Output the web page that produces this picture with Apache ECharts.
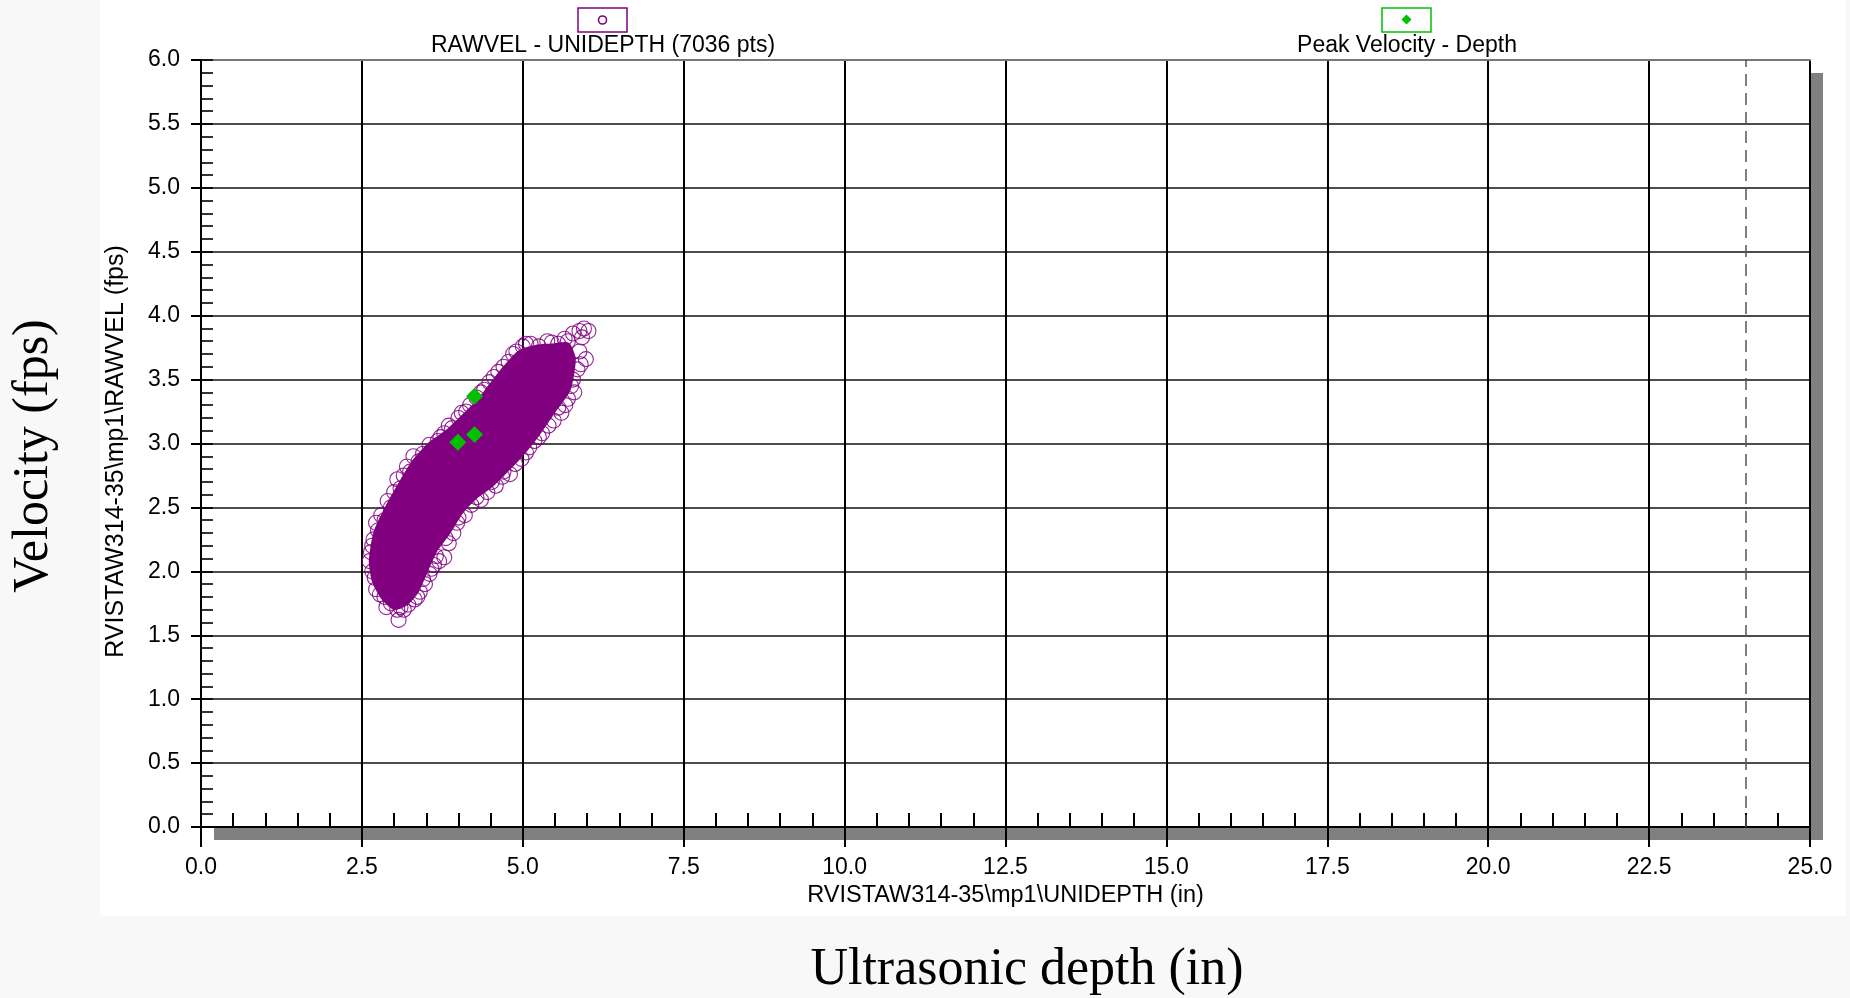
<!DOCTYPE html>
<html>
<head>
<meta charset="utf-8">
<script src="https://cdn.jsdelivr.net/npm/echarts@6/dist/echarts.min.js"></script>
<style>
    html, body { margin: 0; padding: 0; background: #f8f8f8; }
    #paper { position: absolute; left: 100px; top: 0; width: 1746px; height: 916px; background: #fff; }
    #container { position: absolute; left: 0; top: 0; width: 1850px; height: 998px; }
</style>
</head>
<body>
<div id="paper"></div>
<div id="container"></div>
<script>
// series names
const rawName = 'RAWVEL - UNIDEPTH (7036 pts)';
const peakName = 'Peak Velocity - Depth';

// dense part of the RAWVEL cloud (markers overlap into a solid mass), outline
const denseDepth = [3.00, 2.82, 2.68, 2.63, 2.70, 2.86, 3.08, 3.30, 3.55, 3.83, 4.08, 4.30, 4.50, 4.72, 4.95, 5.20, 5.45, 5.70,
    5.80, 5.72, 5.50, 5.24, 5.02, 4.78, 4.52, 4.30, 4.05, 3.85, 3.66, 3.50, 3.36, 3.18];
const denseVel = [1.71, 1.79, 1.92, 2.08, 2.30, 2.48, 2.68, 2.86, 3.00, 3.10, 3.22, 3.33, 3.46, 3.60, 3.72, 3.76, 3.77, 3.78,
    3.66, 3.42, 3.26, 3.07, 2.93, 2.80, 2.67, 2.59, 2.46, 2.30, 2.17, 2.00, 1.84, 1.74];

// single RAWVEL readings visible on the rim of the cloud
const rawDepth = [2.72, 2.66, 2.64, 2.68, 2.72, 2.80, 2.90, 3.00, 3.05, 3.15, 3.20, 3.30, 3.45, 3.55, 3.68, 3.78, 3.90, 4.00, 4.12,
    4.28, 4.40, 4.55, 4.62, 4.78, 4.90, 5.00, 5.12, 5.25, 5.38, 5.55, 5.65,
    5.78, 5.88, 5.95, 6.02, 5.92,
    5.98, 5.88, 5.85, 5.78, 5.80, 5.70, 5.66, 5.60, 5.48, 5.40, 5.30, 5.18, 5.10, 4.98, 4.88, 4.80, 4.68, 4.58, 4.45, 4.35,
    4.20, 4.10, 3.98, 3.92, 3.85, 3.78, 3.70, 3.62, 3.55, 3.48, 3.40, 3.32, 3.22, 3.10,
    2.95, 2.85, 3.05, 3.07,
    2.70, 2.62, 2.66, 2.75, 2.85, 2.95, 3.10, 3.25, 3.38, 3.62, 3.72, 3.85, 4.05, 4.18, 4.35, 4.48, 4.70, 4.85, 5.05, 5.45, 5.70,
    5.90, 5.75, 5.55, 5.25, 5.05, 4.70, 4.52, 4.28, 4.00, 3.80, 3.65, 3.58, 3.45, 3.36, 3.15, 2.88, 2.78];
const rawVel = [1.86, 2.00, 2.15, 2.25, 2.38, 2.44, 2.55, 2.62, 2.72, 2.75, 2.82, 2.90, 2.92, 2.99, 3.02, 3.08, 3.12, 3.20, 3.25,
    3.36, 3.42, 3.52, 3.56, 3.64, 3.72, 3.76, 3.78, 3.76, 3.80, 3.78, 3.82,
    3.86, 3.88, 3.90, 3.88, 3.83,
    3.66, 3.72, 3.58, 3.50, 3.40, 3.35, 3.30, 3.24, 3.18, 3.14, 3.08, 3.02, 2.97, 2.88, 2.84, 2.76, 2.74, 2.67, 2.62, 2.56,
    2.52, 2.44, 2.38, 2.30, 2.22, 2.11, 2.08, 2.05, 1.98, 1.90, 1.84, 1.78, 1.74, 1.72,
    1.75, 1.80, 1.70, 1.62,
    1.95, 2.08, 2.20, 2.32, 2.40, 2.50, 2.65, 2.78, 2.86, 2.96, 3.05, 3.14, 3.24, 3.30, 3.40, 3.48, 3.60, 3.70, 3.78, 3.79, 3.80,
    3.62, 3.45, 3.28, 3.05, 2.93, 2.78, 2.70, 2.58, 2.42, 2.26, 2.12, 2.02, 1.94, 1.80, 1.70, 1.72, 1.82];

// peak velocity points
const peakDepth = [3.99, 4.25, 4.25];
const peakVel = [3.01, 3.07, 3.37];

const markerDepth = 24.0;

const purple = '#800080';
const green = '#00c000';
const sans = '"Liberation Sans", Arial, sans-serif';

var dom = document.getElementById('container');
var myChart = echarts.init(dom, null, { renderer: 'canvas' });

var option = {
    animation: false,
    backgroundColor: 'transparent',
    textStyle: { fontFamily: sans, color: '#000' },
    grid: {
        left: 201, top: 60, width: 1609, height: 767,
        show: true,
        backgroundColor: '#fff',
        borderWidth: 0,
        shadowColor: '#808080',
        shadowBlur: 0,
        shadowOffsetX: 13,
        shadowOffsetY: 13
    },
    xAxis: [
        {
            type: 'value', min: 0, max: 25, interval: 2.5, position: 'bottom',
            name: 'RVISTAW314-35\\mp1\\UNIDEPTH (in)',
            nameLocation: 'middle', nameGap: 54,
            nameTextStyle: { fontSize: 23.5, color: '#000', fontFamily: sans },
            axisLine: { lineStyle: { color: '#000', width: 2 } },
            axisTick: { inside: false, length: 20, lineStyle: { color: '#000', width: 2 } },
            axisLabel: { fontSize: 23, color: '#000', margin: 29, formatter: v => v.toFixed(1) },
            splitLine: { show: true, lineStyle: { color: '#000', width: 2 } }
        },
        {
            type: 'value', min: 0, max: 25, interval: 0.5, position: 'bottom',
            axisLine: { show: false },
            axisTick: { inside: true, length: 14, lineStyle: { color: '#000', width: 2 } },
            axisLabel: { show: false },
            splitLine: { show: false }
        },
        {
            // grey top frame of the plot
            type: 'value', min: 0, max: 25, position: 'top',
            axisLine: { show: true, lineStyle: { color: '#777', width: 2 } },
            axisTick: { show: false },
            axisLabel: { show: false },
            splitLine: { show: false }
        }
    ],
    yAxis: [
        {
            type: 'value', min: 0, max: 6, interval: 0.5, position: 'left',
            name: 'RVISTAW314-35\\mp1\\RAWVEL (fps)',
            nameLocation: 'middle', nameGap: 72,
            nameTextStyle: { fontSize: 25, color: '#000', fontFamily: sans, padding: [0, 16, 0, 0] },
            axisLine: { lineStyle: { color: '#000', width: 2 } },
            axisTick: { inside: false, length: 10, lineStyle: { color: '#000', width: 2 } },
            axisLabel: { fontSize: 23, color: '#000', margin: 21, formatter: v => v.toFixed(1) },
            splitLine: { show: true, showMaxLine: false, lineStyle: { color: '#111', width: 1.6 } }
        },
        {
            type: 'value', min: 0, max: 6, interval: 0.1, position: 'left',
            axisLine: { show: false },
            axisTick: { inside: true, length: 12, lineStyle: { color: '#000', width: 1.6 } },
            axisLabel: { show: false },
            splitLine: { show: false }
        }
    ],
    series: [
        {
            name: rawName,
            type: 'custom',
            z: 3,
            silent: true,
            data: denseDepth.map((d, i) => [d, denseVel[i]]),
            renderItem: function (params, api) {
                if (params.dataIndex !== 0) return;
                const pts = denseDepth.map((d, i) => api.coord([d, denseVel[i]]));
                return {
                    type: 'polygon',
                    shape: { points: pts, smooth: 0.2 },
                    style: { fill: purple, stroke: purple, lineWidth: 3 }
                };
            }
        },
        {
            name: rawName,
            type: 'scatter',
            z: 4,
            symbol: 'circle',
            symbolSize: 15,
            itemStyle: { color: 'transparent', borderColor: purple, borderWidth: 1.1, opacity: 0.85 },
            data: rawDepth.map((d, i) => [d, rawVel[i]]),
            markLine: {
                silent: true,
                symbol: 'none',
                label: { show: false },
                lineStyle: { type: [12, 7], color: '#555', width: 1.5 },
                data: [{ xAxis: markerDepth }]
            }
        },
        {
            name: peakName,
            type: 'scatter',
            z: 5,
            symbol: 'diamond',
            symbolSize: 17,
            itemStyle: { color: green, opacity: 1 },
            data: peakDepth.map((d, i) => [d, peakVel[i]])
        }
    ],
    graphic: [
        // legend: raw velocity
        { type: 'rect', shape: { x: 578, y: 8, width: 49, height: 24 }, style: { fill: '#fff', stroke: purple, lineWidth: 1.5 } },
        { type: 'circle', shape: { cx: 602.5, cy: 20, r: 4 }, style: { fill: 'none', stroke: purple, lineWidth: 1.6 } },
        { type: 'text', x: 603, y: 46, style: { text: rawName, align: 'center', verticalAlign: 'middle', font: '23px ' + sans, fill: '#000' } },
        // legend: peak velocity
        { type: 'rect', shape: { x: 1382, y: 8, width: 49, height: 24 }, style: { fill: '#fff', stroke: green, lineWidth: 1.5 } },
        { type: 'polygon', shape: { points: [[1406.5, 14.5], [1411.5, 19.5], [1406.5, 24.5], [1401.5, 19.5]] }, style: { fill: green } },
        { type: 'text', x: 1407, y: 46, style: { text: peakName, align: 'center', verticalAlign: 'middle', font: '23px ' + sans, fill: '#000' } },
        // slide captions
        { type: 'text', x: 34, y: 456, rotation: Math.PI / 2, style: { text: 'Velocity (fps)', align: 'center', verticalAlign: 'middle', font: '50px "Liberation Serif", "Times New Roman", serif', fill: '#000' } },
        { type: 'text', x: 1027, y: 970, style: { text: 'Ultrasonic depth (in)', align: 'center', verticalAlign: 'middle', font: '52px "Liberation Serif", "Times New Roman", serif', fill: '#000' } }
    ]
};

if (option && typeof option === 'object') {
    myChart.setOption(option);
}

window.addEventListener('resize', myChart.resize);
</script>
</body>
</html>
